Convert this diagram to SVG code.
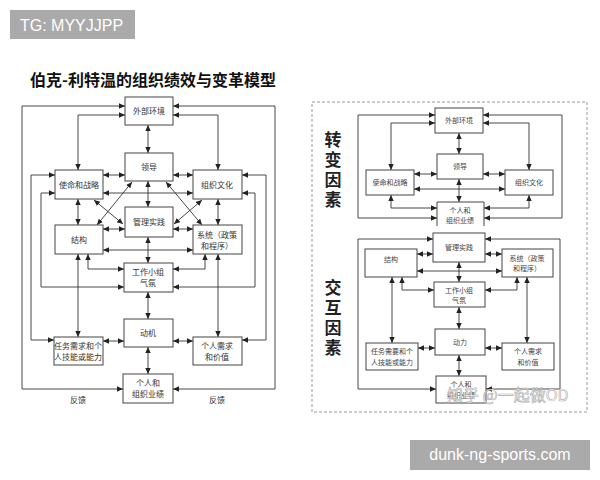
<svg xmlns="http://www.w3.org/2000/svg" width="600" height="480" viewBox="0 0 600 480">
<style>
.bx{fill:#fff;stroke:#444;stroke-width:1}
.ln{fill:none;stroke:#333;stroke-width:0.9;marker-start:url(#a);marker-end:url(#a)}
.lb{font-family:"Noto Sans CJK SC",sans-serif;font-size:8px;fill:#333;text-anchor:middle}
.rb{font-family:"Noto Sans CJK SC",sans-serif;font-size:7px;fill:#444;text-anchor:middle}
.vt{font-family:"Noto Sans CJK SC",sans-serif;font-size:17px;font-weight:700;fill:#222;writing-mode:vertical-rl;letter-spacing:3px}
</style>
<defs>
<marker id="a" viewBox="0 0 10 10" refX="10" refY="5" markerWidth="6" markerHeight="6" markerUnits="userSpaceOnUse" orient="auto-start-reverse"><path d="M0,0.5 L10,5 L0,9.5z" fill="#222"/></marker>
</defs>
<rect width="600" height="480" fill="#fff"/>
<g id="tg">
<rect x="10" y="10" width="125" height="29" fill="#aaaaaa"/>
<text x="20" y="31" font-family="Liberation Sans, Arial, sans-serif" font-size="16" fill="#fff">TG: MYYJJPP</text>
</g>
<text id="title" x="153" y="86" font-family="Noto Sans CJK SC, sans-serif" font-size="16" font-weight="700" fill="#111" text-anchor="middle">伯克-利特温的组织绩效与变革模型</text>

<g id="left-connectors">
<path class="ln" d="M125,106 H22 V389 H123"/>
<path class="ln" d="M173,106 H275 V389 H173"/>
<path class="ln" d="M55,175 H31 V340 H54"/>
<path class="ln" d="M242,175 H266 V340 H242"/>
<path class="ln" d="M55,193 H41 V287 H124"/>
<path class="ln" d="M242,193 H255 V287 H173"/>
<path class="ln" d="M125,115 H78 V170"/>
<path class="ln" d="M173,115 H218 V170"/>
<path class="ln" d="M148,125 V153"/>
<path class="ln" d="M103,175 H125"/>
<path class="ln" d="M173,175 H193"/>
<path class="ln" d="M103,193 H193"/>
<path class="ln" d="M148,181 V207"/>
<path class="ln" d="M132,182 L97,225"/>
<path class="ln" d="M94,200 L123,224"/>
<path class="ln" d="M166,182 L202,225"/>
<path class="ln" d="M202,200 L174,224"/>
<path class="ln" d="M103,229 H125"/>
<path class="ln" d="M173,229 H193"/>
<path class="ln" d="M103,250 H193"/>
<path class="ln" d="M78,199 V225"/>
<path class="ln" d="M218,199 V225"/>
<path class="ln" d="M148,237 V263"/>
<path class="ln" d="M88,254 V269 H124"/>
<path class="ln" d="M205,254 V269 H173"/>
<path class="ln" d="M148,292 V319"/>
<path class="ln" d="M78,254 V337"/>
<path class="ln" d="M218,254 V337"/>
<path class="ln" d="M103,341 H124"/>
<path class="ln" d="M173,341 H193"/>
<path class="ln" d="M148,347 V374"/>
</g>
<g id="L-ext"><rect class="bx" x="125" y="97" width="48" height="28"/><text class="lb" x="149" y="114">外部环境</text></g>
<g id="L-lead"><rect class="bx" x="125" y="153" width="48" height="28"/><text class="lb" x="149" y="170">领导</text></g>
<g id="L-mis"><rect class="bx" x="55" y="170" width="48" height="29"/><text class="lb" x="79" y="188">使命和战略</text></g>
<g id="L-cul"><rect class="bx" x="193" y="170" width="49" height="29"/><text class="lb" x="217" y="188">组织文化</text></g>
<g id="L-mgmt"><rect class="bx" x="125" y="207" width="48" height="30"/><text class="lb" x="149" y="225">管理实践</text></g>
<g id="L-str"><rect class="bx" x="55" y="225" width="48" height="29"/><text class="lb" x="79" y="243">结构</text></g>
<g id="L-sys"><rect class="bx" x="193" y="225" width="49" height="29"/><text class="lb" x="217" y="238">系统（政策</text><text class="lb" x="217" y="249">和程序）</text></g>
<g id="L-grp"><rect class="bx" x="124" y="263" width="49" height="29"/><text class="lb" x="148" y="275">工作小组</text><text class="lb" x="148" y="286">气氛</text></g>
<g id="L-mot"><rect class="bx" x="124" y="319" width="49" height="28"/><text class="lb" x="148" y="336">动机</text></g>
<g id="L-task"><rect class="bx" x="54" y="337" width="49" height="28"/><text class="lb" x="78" y="349">任务需求和个</text><text class="lb" x="78" y="360">人技能或能力</text></g>
<g id="L-need"><rect class="bx" x="193" y="337" width="49" height="28"/><text class="lb" x="217" y="349">个人需求</text><text class="lb" x="217" y="360">和价值</text></g>
<g id="L-perf"><rect class="bx" x="123" y="374" width="50" height="29"/><text class="lb" x="148" y="386">个人和</text><text class="lb" x="148" y="397">组织业绩</text></g>
<text class="lb" x="78" y="403">反馈</text>
<text class="lb" x="217" y="403">反馈</text>

<rect id="frame" x="312" y="102" width="275" height="310" fill="none" stroke="#999" stroke-width="1" stroke-dasharray="3,2"/>
<g id="labels-right">
<text class="vt" x="333" y="131">转变因素</text>
<text class="vt" x="333" y="279">交互因素</text>
</g>
<g id="right-connectors">
<path class="ln" d="M435,115 H358 V218 H437"/>
<path class="ln" d="M483,115 H562 V218 H484"/>
<path class="ln" d="M435,123 H391 V170"/>
<path class="ln" d="M483,123 H529 V170"/>
<path class="ln" d="M459,133 V154"/>
<path class="ln" d="M414,174 H437"/>
<path class="ln" d="M483,174 H505"/>
<path class="ln" d="M414,189 H505"/>
<path class="ln" d="M459,179 V202"/>
<path class="ln" d="M391,195 V208 H437"/>
<path class="ln" d="M529,195 V208 H484"/>
<path class="ln" d="M433,239 H358 V389 H436"/>
<path class="ln" d="M485,239 H560 V389 H486"/>
<path class="ln" d="M417,254 H433"/>
<path class="ln" d="M485,254 H502"/>
<path class="ln" d="M417,271 H502"/>
<path class="ln" d="M459,262 V282"/>
<path class="ln" d="M402,277 V290 H434"/>
<path class="ln" d="M517,277 V290 H485"/>
<path class="ln" d="M392,277 V343"/>
<path class="ln" d="M527,277 V343"/>
<path class="ln" d="M459,307 V329"/>
<path class="ln" d="M418,348 H435"/>
<path class="ln" d="M485,348 H502"/>
<path class="ln" d="M459,355 V376"/>
</g>
<g id="R-ext"><rect class="bx" x="435" y="108" width="48" height="25"/><text class="rb" x="459" y="123">外部环境</text></g>
<g id="R-lead"><rect class="bx" x="437" y="154" width="46" height="25"/><text class="rb" x="460" y="169">领导</text></g>
<g id="R-mis"><rect class="bx" x="366" y="170" width="48" height="25"/><text class="rb" x="390" y="185">使命和战略</text></g>
<g id="R-cul"><rect class="bx" x="505" y="170" width="48" height="25"/><text class="rb" x="529" y="185">组织文化</text></g>
<g id="R-perf1"><path d="M437,226 V202 H484 V226" fill="#fff" stroke="#444" stroke-width="1"/><text class="rb" x="460" y="213">个人和</text><text class="rb" x="460" y="223">组织业绩</text></g>
<g id="R-mgmt"><rect class="bx" x="433" y="233" width="52" height="29"/><text class="rb" x="459" y="250">管理实践</text></g>
<g id="R-str"><rect class="bx" x="365" y="249" width="52" height="28"/><text class="rb" x="391" y="262">结构</text></g>
<g id="R-sys"><rect class="bx" x="502" y="249" width="51" height="28"/><text class="rb" x="527" y="261">系统（政策</text><text class="rb" x="527" y="271">和程序）</text></g>
<g id="R-grp"><rect class="bx" x="434" y="282" width="51" height="25"/><text class="rb" x="459" y="293">工作小组</text><text class="rb" x="459" y="303">气氛</text></g>
<g id="R-mot"><rect class="bx" x="435" y="329" width="50" height="26"/><text class="rb" x="460" y="345">动力</text></g>
<g id="R-task"><rect class="bx" x="366" y="343" width="52" height="27"/><text class="rb" x="392" y="354">任务需要和个</text><text class="rb" x="392" y="365">人技能或能力</text></g>
<g id="R-need"><rect class="bx" x="502" y="343" width="52" height="27"/><text class="rb" x="528" y="354">个人需求</text><text class="rb" x="528" y="365">和价值</text></g>
<g id="R-perf2"><rect class="bx" x="436" y="376" width="50" height="27"/><text class="rb" x="461" y="387">个人和</text><text class="rb" x="461" y="398">组织业绩</text></g>
<text id="wm" x="447" y="401" font-family="Noto Sans CJK SC, sans-serif" font-size="16" fill="#fff" fill-opacity="0.85" stroke="#aaa" stroke-width="0.6">知乎 @一起做OD</text>

<g id="site">
<rect x="410" y="440" width="180" height="30" fill="#aaaaaa"/>
<text x="500" y="460" font-family="Liberation Sans, Arial, sans-serif" font-size="16" fill="#fff" text-anchor="middle">dunk-ng-sports.com</text>
</g>
</svg>
